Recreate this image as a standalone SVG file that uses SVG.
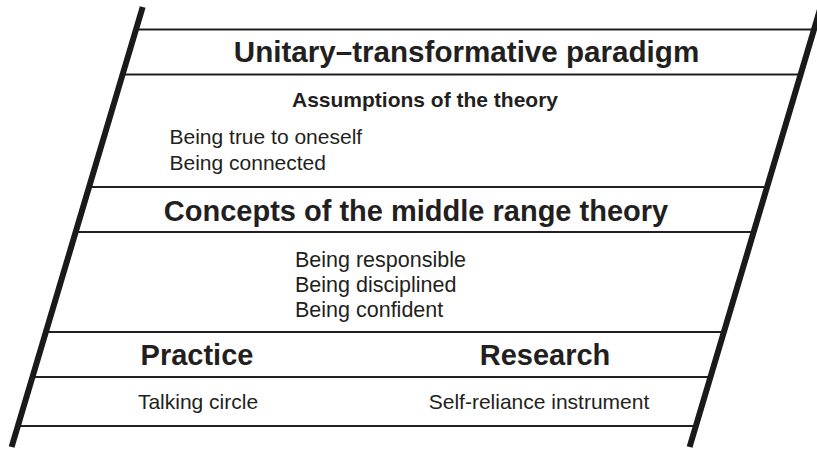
<svg xmlns="http://www.w3.org/2000/svg" width="817" height="450" viewBox="0 0 817 450">
<style>
  .frame { stroke: #1a1a1a; stroke-width: 6; fill: none; stroke-linecap: butt; }
  .rule { stroke: #231f20; stroke-width: 2; fill: none; }
  .h1 { font-family: "Liberation Sans", Arial, sans-serif; font-weight: bold; font-size: 29px; fill: #231f20; text-anchor: middle; }
  .h2 { font-family: "Liberation Sans", Arial, sans-serif; font-weight: bold; font-size: 21px; fill: #231f20; text-anchor: middle; }
  .t { font-family: "Liberation Sans", Arial, sans-serif; font-size: 21px; fill: #231f20; }
  .tc { font-family: "Liberation Sans", Arial, sans-serif; font-size: 21px; fill: #231f20; text-anchor: middle; }
</style>
<rect width="817" height="450" fill="#ffffff"/>
<g id="connectors">
  <line class="rule" x1="136" y1="29.5" x2="815" y2="29.5"/>
  <line class="rule" x1="122.6" y1="74.5" x2="801.4" y2="74.5"/>
  <line class="rule" x1="89" y1="187" x2="768" y2="187"/>
  <line class="rule" x1="75.6" y1="232" x2="754.5" y2="232"/>
  <line class="rule" x1="45.9" y1="332" x2="724.7" y2="332"/>
  <line class="rule" x1="32.4" y1="377" x2="711.3" y2="377"/>
  <line class="rule" x1="17.8" y1="426" x2="696.7" y2="426"/>
  <line class="frame" x1="142.7" y1="7" x2="11.6" y2="447"/>
  <line class="frame" x1="822.8" y1="0" x2="689.6" y2="447"/>
</g>
<g id="paradigm">
  <text class="h1" x="466.5" y="61.5" style="font-size:29.6px">Unitary–transformative paradigm</text>
</g>
<g id="assumptions">
  <text class="h2" x="425" y="107">Assumptions of the theory</text>
  <text class="t" x="169.5" y="143.5">Being true to oneself</text>
  <text class="t" x="169.5" y="169.5">Being connected</text>
</g>
<g id="concepts">
  <text class="h1" x="416" y="220.5">Concepts of the middle range theory</text>
  <text class="t" x="295" y="266.5" style="font-size:21.5px">Being responsible</text>
  <text class="t" x="295" y="291.5" style="font-size:21.5px">Being disciplined</text>
  <text class="t" x="295" y="316.5" style="font-size:21.5px">Being confident</text>
</g>
<g id="practice">
  <text class="h1" x="197" y="365">Practice</text>
  <text class="tc" x="198" y="409">Talking circle</text>
</g>
<g id="research">
  <text class="h1" x="545" y="365">Research</text>
  <text class="tc" x="539" y="409">Self-reliance instrument</text>
</g>
</svg>
